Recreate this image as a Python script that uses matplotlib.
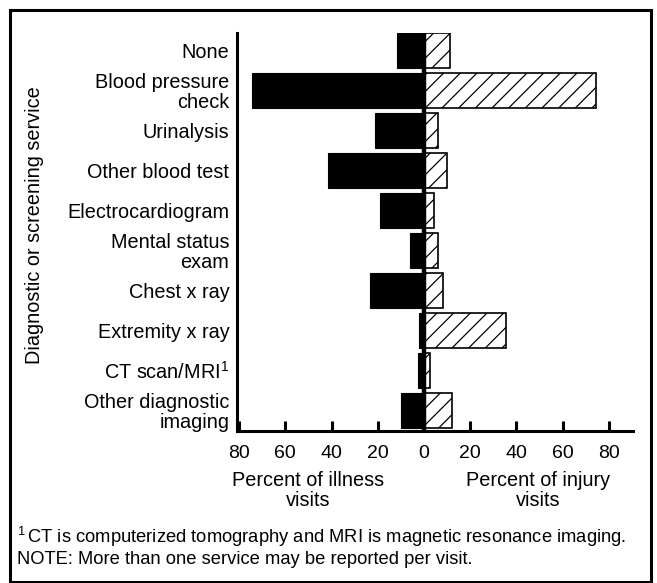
import matplotlib
matplotlib.use("Agg")
import matplotlib.pyplot as plt
from matplotlib.patches import Rectangle
import numpy as np

categories = ["None", "Blood pressure\ncheck", "Urinalysis", "Other blood test",
              "Electrocardiogram", "Mental status\nexam", "Chest x ray",
              "Extremity x ray", "CT scan/MRI$^{1}$", "Other diagnostic\nimaging"]
illness = [11.8, 74.4, 21.3, 41.5, 19.2, 5.9, 23.4, 2.3, 2.7, 9.9]
injury = [11.2, 74.4, 6.2, 9.9, 4.5, 6.2, 8.1, 35.5, 2.7, 12.2]
tick_values = [-80, -60, -40, -20, 0, 20, 40, 60, 80]
tick_labels = ["80", "60", "40", "20", "0", "20", "40", "60", "80"]

plt.rcParams['font.family'] = ['Liberation Sans', 'DejaVu Sans']
plt.rcParams['mathtext.fontset'] = 'custom'
plt.rcParams['mathtext.rm'] = 'Liberation Sans'
plt.rcParams['mathtext.it'] = 'Liberation Sans'
plt.rcParams['mathtext.bf'] = 'Liberation Sans'
plt.rcParams['mathtext.default'] = 'rm'
plt.rcParams['hatch.linewidth'] = 0.9

FS = 14.3

W, H = 657, 583
fig = plt.figure(figsize=(W / 100, H / 100), dpi=100)

def fx(px):
    return px / W

def fy(py):
    return 1 - py / H

ax = fig.add_axes([fx(237), fy(431), fx(633) - fx(237), fy(33) - fy(431)])

y = np.arange(len(categories))
ax.barh(y, [-v for v in illness], height=0.875, color='black', edgecolor='black', linewidth=0.8)
ax.barh(y, injury, height=0.875, color='white', edgecolor='black', linewidth=1.2, hatch='//')
ax.axvline(0, color='black', linewidth=3.2, zorder=5)

ax.set_xlim(-80.9, 90.4)
ax.set_ylim(len(categories) - 0.475, -0.425)

ax.set_yticks(y)
ax.set_yticklabels(categories, fontsize=FS, linespacing=1.08, ha='right')
ax.tick_params(axis='y', length=0, pad=5.5)

ax.set_xticks(tick_values)
ax.set_xticklabels(tick_labels, fontsize=14)
ax.tick_params(axis='x', direction='in', length=7.5, width=2.2, pad=10)

for s in ['top', 'right']:
    ax.spines[s].set_visible(False)
for s in ['left', 'bottom']:
    ax.spines[s].set_linewidth(2.2)

fig.text(fx(35), fy(225), "Diagnostic or screening service", rotation=90,
         ha='center', va='center', fontsize=FS)

fig.text(fx(308.5), fy(490.5), "Percent of illness\nvisits", ha='center', va='center',
         fontsize=FS, linespacing=1.05)
fig.text(fx(538.5), fy(490.5), "Percent of injury\nvisits", ha='center', va='center',
         fontsize=FS, linespacing=1.05)

fig.text(fx(17), fy(537), "$^{1}\\,$CT is computerized tomography and MRI is magnetic resonance imaging.",
         ha='left', va='center', fontsize=13.2)
fig.text(fx(17), fy(560), "NOTE: More than one service may be reported per visit.",
         ha='left', va='center', fontsize=13.2)

frame = Rectangle((fx(10), fy(582)), fx(651) - fx(10), fy(10) - fy(582),
                  transform=fig.transFigure, fill=False, edgecolor='black', linewidth=2.2)
fig.patches.append(frame)

fig.savefig("out.png", dpi=100)
